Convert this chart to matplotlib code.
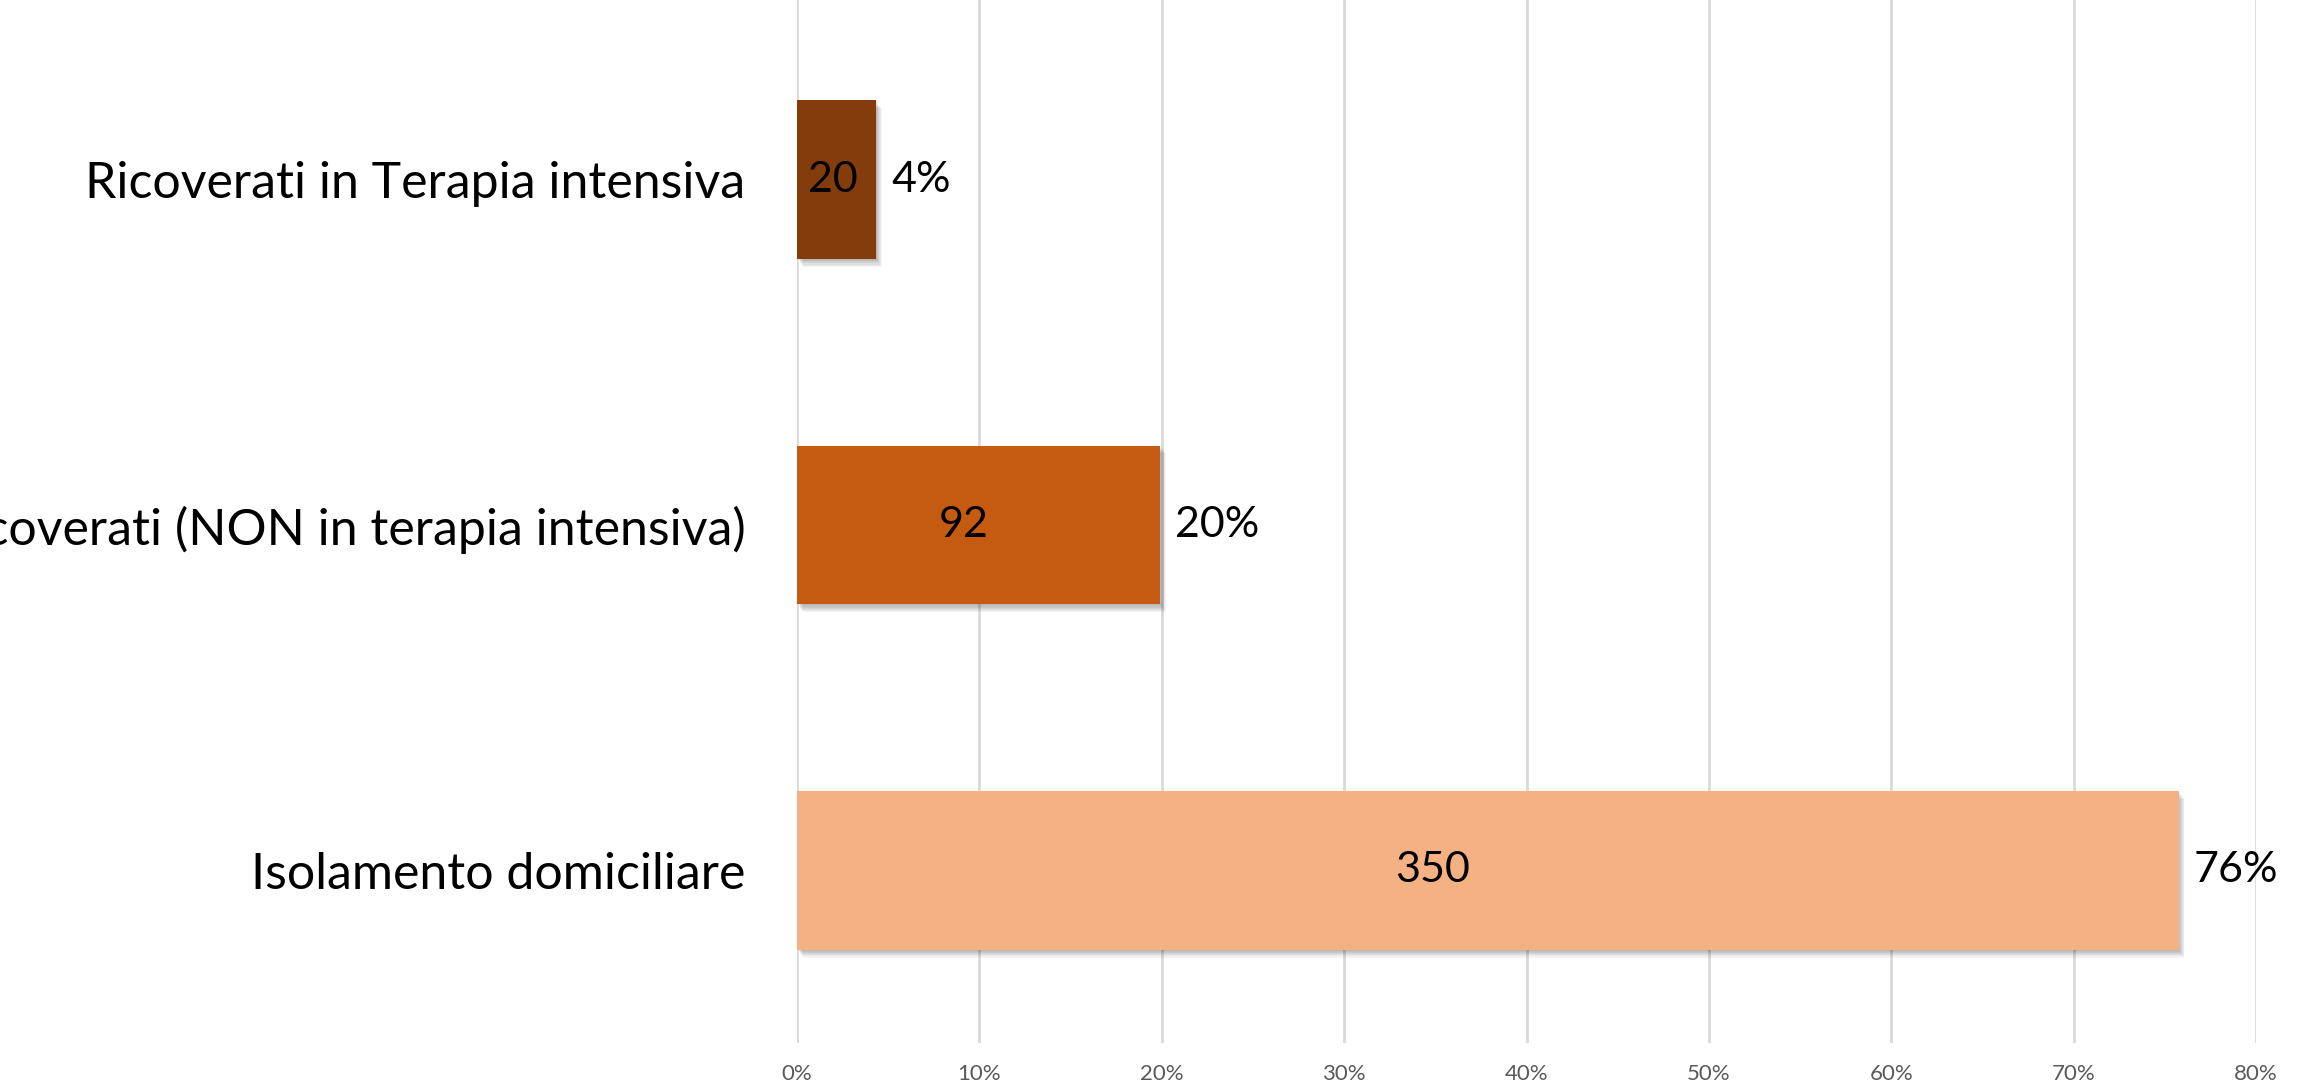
import matplotlib.pyplot as plt
import matplotlib.patheffects as pe
from matplotlib.ticker import PercentFormatter

# dati
categorie = ['Isolamento domiciliare',
             'Ricoverati (NON in terapia intensiva)',
             'Ricoverati in Terapia intensiva']
casi = [350, 92, 20]
colori = ['#F4B183', '#C55A11', '#843C0C']
tick_vals = [0, 10, 20, 30, 40, 50, 60, 70, 80]

totale = sum(casi)
perc = [c / totale * 100 for c in casi]

plt.rcParams['font.family'] = ['Lato', 'DejaVu Sans']

fig = plt.figure(figsize=(23.07, 10.86), dpi=100)
ax = fig.add_axes([797 / 2307, 1 - 1043 / 1086, (2256 - 797) / 2307, 1043 / 1086])

# ombra sfumata sotto le barre
ombra = [pe.SimplePatchShadow(offset=(d * 0.6, -d * 0.8), shadow_rgbFace='k', alpha=0.045)
         for d in range(1, 8)] + [pe.Normal()]

y = range(len(categorie))
bars = ax.barh(y, perc, height=0.46, color=colori, zorder=3)
for b in bars:
    b.set_path_effects(ombra)

for i, (c, p) in enumerate(zip(casi, perc)):
    ax.text(p * 0.46, i, str(c), ha='center', va='center', fontsize=31, zorder=4)
    ax.annotate(f'{p:.0f}%', (p, i), xytext=(11, 0), textcoords='offset points',
                ha='left', va='center', fontsize=31)

ax.set_xlim(0, 80)
ax.set_ylim(-0.5, 2.52)
ax.set_xticks(tick_vals)
ax.xaxis.set_major_formatter(PercentFormatter(decimals=0))
ax.set_yticks(list(y))
ax.set_yticklabels(categorie, fontsize=36)
ax.tick_params(axis='y', length=0, pad=37)
ax.tick_params(axis='x', length=0, pad=15, labelsize=16, labelcolor='#595959')
ax.grid(axis='x', color='#D9D9D9', linewidth=2, zorder=0)
for s in ax.spines.values():
    s.set_visible(False)

fig.savefig('out.png', dpi=100)
